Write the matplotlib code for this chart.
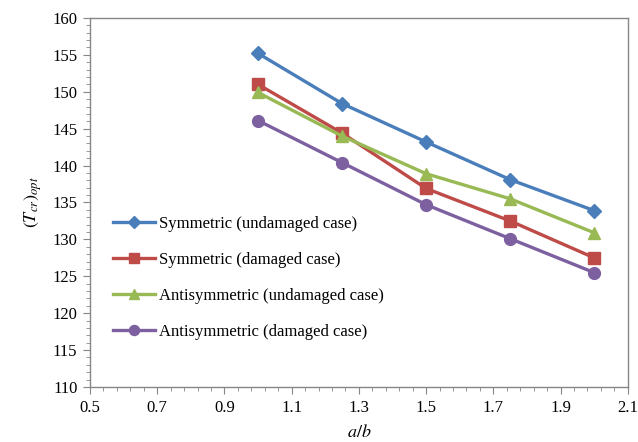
import numpy as np
import matplotlib
matplotlib.use('Agg')
from matplotlib import pyplot

pyplot.rcParams['font.family'] = ['Liberation Serif', 'DejaVu Serif']
pyplot.rcParams['mathtext.fontset'] = 'stix'

ratio = [1.0, 1.25, 1.5, 1.75, 2.0]
sym_undamaged = [155.2, 148.4, 143.2, 138.1, 133.9]
sym_damaged = [151.0, 144.4, 136.9, 132.5, 127.5]
anti_undamaged = [149.9, 144.0, 138.9, 135.5, 130.9]
anti_damaged = [146.1, 140.4, 134.7, 130.1, 125.5]

series = [
    (sym_undamaged, 'Symmetric (undamaged case)', '#4A7EBB', 'D', 7),
    (sym_damaged, 'Symmetric (damaged case)', '#BE4B48', 's', 8),
    (anti_undamaged, 'Antisymmetric (undamaged case)', '#98B954', '^', 9),
    (anti_damaged, 'Antisymmetric (damaged case)', '#7D60A0', 'o', 8.5),
]

figure = pyplot.figure(figsize=(6.38, 4.42), dpi=100)
axes = figure.add_axes([0.141, 0.1244, 0.843, 0.835])

for vals, label, color, marker, ms in series:
    axes.plot(ratio, vals, color=color, lw=2.4, marker=marker, markersize=ms, label=label)

axes.set_xlim(0.5, 2.1)
axes.set_ylim(110, 160)
axes.set_xticks(np.arange(0.5, 2.11, 0.2))
axes.set_xticklabels(['%.1f' % v for v in np.arange(0.5, 2.11, 0.2)])
axes.set_xticks(np.arange(0.5, 2.11, 0.04), minor=True)
axes.set_yticks(np.arange(110, 161, 5))
axes.set_yticks(np.arange(110, 161, 1), minor=True)

for side in axes.spines:
    axes.spines[side].set_color('#868686')
    axes.spines[side].set_linewidth(1.0)
axes.tick_params(which='both', direction='out', color='#868686', labelsize=12,
                 top=False, right=False)
axes.tick_params(which='major', length=5, pad=4)
axes.tick_params(which='minor', length=3)

axes.set_xlabel('$a/b$', fontsize=13, labelpad=6)
axes.set_ylabel('$(T_{cr})_{opt}$', fontsize=13, labelpad=6)

axes.legend(loc='lower left', bbox_to_anchor=(0.015, 0.086), frameon=False, fontsize=12,
            handlelength=2.5, handletextpad=0.25, labelspacing=1.2, markerscale=0.85)

pyplot.savefig('out.png', dpi=100)
